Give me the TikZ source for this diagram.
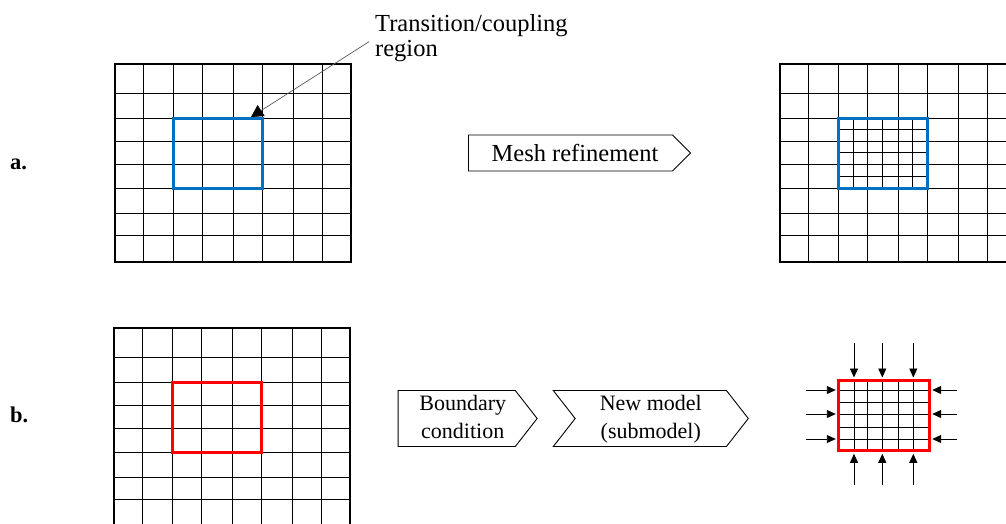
\documentclass[tikz,border=0pt]{standalone}
\usepackage{fontspec}
\setmainfont{Liberation Serif}
\usetikzlibrary{arrows.meta,shapes.symbols}

\definecolor{meshblue}{RGB}{0,112,192}

\tikzset{
  gridline/.style={line width=0.9pt},
  region/.style={line width=3pt},
  chevron/.style={draw, signal, line width=0.9pt, inner sep=0pt, align=center, font=\fontsize{22}{28}\selectfont},
  load/.style={line width=0.9pt, shorten >=1.5pt, -{Triangle[length=9pt,width=8pt]}},
  tag/.style={anchor=base west, inner sep=0pt, font=\fontsize{22.5}{26}\selectfont\bfseries}
}

\newcommand\meshgrid[2]{%
  \foreach \c in {0,28.5,58.5,87.5,118,147.5,178.5,207.5,236}
    \draw[gridline] (#1+\c,#2) -- (#1+\c,#2+198);
  \foreach \r in {0,29,54.5,77,100.5,124.5,149,171.5,198}
    \draw[gridline] (#1,#2+\r) -- (#1+236,#2+\r);
  \draw[line width=1.2pt] (#1,#2) rectangle (#1+236,#2+198);
}

\begin{document}
\begin{tikzpicture}[x=1pt,y=-1pt]
\useasboundingbox (0,0) rectangle (1006,523);
\clip (0,0) rectangle (1006,523);

\node[tag] (taga) at (10,169) {a.};
\node[tag] (tagb) at (10,422) {b.};

\meshgrid{115}{64}
\draw[region,meshblue] (173.5,118.5) rectangle (262.5,188.5);

\node[anchor=north west, align=left, inner sep=0pt, font=\fontsize{24.5}{25}\selectfont] (trans) at (375,14) {Transition/coupling\\region};
\coordinate (tip) at (251,117);
\draw[line width=0.7pt, black!65, shorten <=7pt, -{Triangle[length=12pt,width=13pt,color=black]}] (trans.west) -- (tip);

\node[chevron, signal to=east, signal pointer angle=90, minimum width=222, minimum height=36, anchor=west, font=\fontsize{24.5}{26}\selectfont] (refine) at (468,153) {\hspace*{9pt}Mesh refinement};

\meshgrid{780}{64}
\foreach \c in {853,882.75,912.75}
  \draw[gridline] (\c,118.5) -- (\c,188.5);
\foreach \r in {129.75,152.75,176.5}
  \draw[gridline] (838.5,\r) -- (927.5,\r);
\draw[region,meshblue] (838.5,118.5) rectangle (927.5,188.5);

\meshgrid{114}{328}
\draw[region,red] (172.5,382.5) rectangle (261.5,452.5);

\node[chevron, signal to=east, signal pointer angle=104, minimum width=139, minimum height=51, anchor=west] (bc) at (397.7,418.5) {\hspace*{12pt}Boundary\strut\\\hspace*{12pt}condition\strut};
\node[chevron, signal from=west, signal to=east, signal pointer angle=104, minimum width=195, minimum height=51] (newmodel) at (650.8,418.5) {New model\strut\\(submodel)\strut};

\foreach \c in {854,867.3,882.3,898.3,913.3}
  \draw[gridline] (\c,379) -- (\c,449.3);
\foreach \r in {390,402.3,414,427.3,439}
  \draw[gridline] (837.3,\r) -- (927.7,\r);
\node[draw=red, region, inner sep=0pt, minimum width=90.4, minimum height=70.3, anchor=north west] (sub) at (837.3,379) {};

\foreach \x [count=\i] in {854,882.3,913.3} {
  \coordinate (top\i) at (\x,343);
  \coordinate (bot\i) at (\x,485);
  \draw[load] (top\i) -- (top\i |- sub.north);
  \draw[load] (bot\i) -- (bot\i |- sub.south);
}
\foreach \y [count=\i] in {390,414,439} {
  \coordinate (lft\i) at (806,\y);
  \coordinate (rgt\i) at (957,\y);
  \draw[load] (lft\i) -- (lft\i -| sub.west);
  \draw[load] (rgt\i) -- (rgt\i -| sub.east);
}
\end{tikzpicture}
\end{document}
